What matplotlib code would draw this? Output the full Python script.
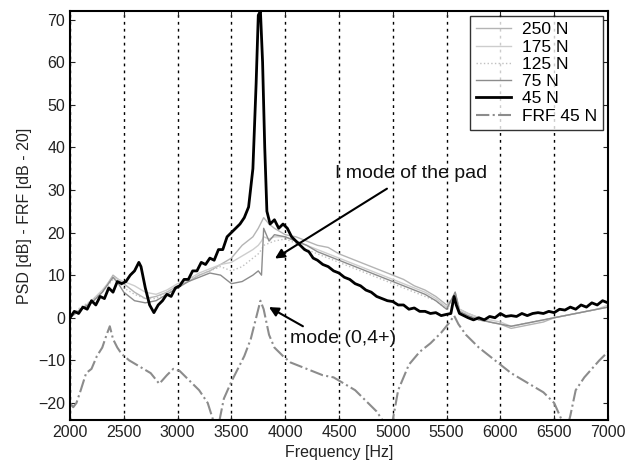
import matplotlib.pyplot as plt

plt.rcParams['font.family'] = ['Liberation Sans', 'DejaVu Sans']

# 45 N response (black)
f_45 = [2000, 2040, 2080, 2120, 2160, 2200, 2240, 2280, 2320, 2360, 2400, 2440, 2480, 2520,
        2560, 2600, 2640, 2660, 2700, 2740, 2780, 2820, 2860, 2900, 2940, 2980, 3020, 3060,
        3100, 3140, 3180, 3220, 3260, 3300, 3340, 3380, 3420, 3460, 3500, 3540, 3580, 3620,
        3660, 3700, 3730, 3750, 3770, 3790, 3810, 3830, 3860, 3900, 3940, 3980, 4020, 4060,
        4100, 4140, 4180, 4220, 4260, 4300, 4350, 4400, 4450, 4500, 4550, 4600, 4650, 4700,
        4750, 4800, 4850, 4900, 4950, 5000, 5050, 5100, 5150, 5200, 5250, 5300, 5350, 5400,
        5450, 5500, 5540, 5570, 5590, 5620, 5660, 5700, 5750, 5800, 5850, 5900, 5950, 6000,
        6050, 6100, 6150, 6200, 6250, 6300, 6350, 6400, 6450, 6500, 6550, 6600, 6650, 6700,
        6750, 6800, 6850, 6900, 6950, 7000]
psd_45 = [0, 1.5, 1, 2.5, 2, 4, 3, 5, 4.5, 7, 6, 8.5, 8, 8.5,
          10, 11, 13, 12, 7, 3, 1.2, 3, 4, 5.5, 5, 7, 7.5, 9,
          9, 11, 11, 13, 12.5, 14, 13.5, 16, 16, 19, 20, 21, 22, 23.5,
          26, 35, 55, 71, 72, 60, 40, 25, 22, 23, 21, 22, 21, 19,
          18, 17, 16, 15.5, 14, 13.5, 12.5, 12, 11, 10.5, 9.5, 9, 8, 7.5,
          6.5, 6, 5, 4.5, 4, 3.8, 3, 3, 2, 2.3, 1.5, 1.5, 1, 1.2,
          0.5, 0.8, 1, 5, 3, 1, 0.5, 0, -0.5, 0, -0.5, 0.3, 0, 1,
          0.3, 0.5, 0.3, 1, 0.5, 1, 1.2, 1, 1.5, 1.2, 2, 1.8, 2.5, 2,
          3, 2.5, 3.5, 3, 4, 3.5]

# higher loads (gray curves)
f_g = [2000, 2100, 2200, 2300, 2400, 2450, 2500, 2600, 2700, 2800, 2900, 3000, 3100, 3200,
       3300, 3400, 3500, 3600, 3700, 3750, 3780, 3800, 3850, 3900, 4000, 4100, 4200, 4300,
       4400, 4500, 4600, 4700, 4800, 4900, 5000, 5100, 5200, 5300, 5400, 5500, 5560, 5580,
       5620, 5700, 5800, 5900, 6000, 6100, 6200, 6300, 6400, 6500, 6600, 6700, 6800, 6900, 7000]
psd_250 = [0.5, 2, 3.5, 6, 10, 9, 8, 6, 4.5, 5, 6, 7.5, 8.5, 10,
           11, 12.5, 14, 17, 19, 21, 22.5, 23.5, 22, 21, 19.5, 19, 18, 17,
           16.5, 15, 14, 13, 12, 11, 10, 9, 7.5, 6.5, 5, 3, 4.5, 6,
           2, 1, 0, -1, -1.5, -2.5, -2, -1.5, -1, 0, 0.5, 1, 1.5, 2, 2.5]
psd_175 = [0, 2, 4, 6.5, 9.5, 9, 8.5, 7.5, 6, 5.5, 6.5, 8, 9, 10.5,
           11.5, 12.5, 13, 14.5, 16, 17, 18, 19, 18.5, 19, 19, 18, 17, 16,
           15, 14, 13, 12, 11, 10, 9, 8, 7, 6, 4.5, 2.5, 4.5, 5.5,
           2, 1, 0, -0.5, -1, -2, -1.5, -1, -0.5, 0, 0.5, 1, 1.5, 2, 3]
psd_125 = [0.5, 2.5, 4, 6, 9, 8.5, 7, 5.5, 4.5, 4.5, 6, 7.5, 9, 10,
           11, 12, 11, 12, 14, 15, 16, 17, 17.5, 18, 18.5, 17.5, 16, 15,
           14, 13, 12, 11, 10, 9, 8, 7, 6, 5, 4, 2, 4, 5,
           1.5, 0.5, -0.5, -1, -1.5, -2, -1.5, -1, -0.5, 0, 0.5, 1, 1.5, 2, 2.5]
psd_75 = [0, 2, 3.5, 6, 9.5, 8, 6, 4, 3.5, 4, 5.5, 7, 8.5, 9.5,
          10.5, 10, 8, 8.5, 10, 11, 10, 21, 18, 19.5, 19, 18, 17, 15.5,
          14.5, 13.5, 12.5, 11.5, 10.5, 9.5, 8.5, 7.5, 6.5, 5.5, 4, 2, 5, 6,
          1.5, 0.5, -0.5, -1, -1.5, -2, -1.5, -1, -0.5, 0, 0.5, 1, 1.5, 2, 2.5]

# FRF 45 N (dash-dot)
f_frf = [2000, 2030, 2060, 2100, 2150, 2200, 2250, 2300, 2340, 2370, 2400, 2440, 2480, 2550,
         2650, 2750, 2830, 2900, 2960, 3020, 3100, 3200, 3280, 3330, 3360, 3390, 3430, 3500,
         3560, 3620, 3680, 3730, 3770, 3800, 3850, 3900, 3980, 4050, 4150, 4250, 4350, 4450,
         4550, 4650, 4750, 4850, 4930, 4970, 5000, 5050, 5150, 5250, 5350, 5450, 5530, 5570,
         5610, 5680, 5800, 5900, 6000, 6100, 6200, 6300, 6400, 6500, 6570, 6610, 6650, 6700,
         6780, 6850, 6920, 7000]
frf_45 = [-20, -21, -20, -17, -13, -12, -9, -7, -4, -2, -5, -7, -8.5, -10,
          -11.5, -13, -15.5, -13.5, -12, -12.5, -14.5, -17, -20, -24, -27, -24, -19, -15,
          -12, -9, -5, 0, 4, 2, -4, -7, -9, -10.5, -11.5, -12.5, -13.5, -14,
          -15.5, -17, -19.5, -22, -25, -27, -24, -17, -11, -8, -6, -3.5, -1, 0.5,
          -1.5, -4, -7, -9, -11, -13, -14.5, -16, -17.5, -20, -24, -27, -23, -17,
          -14, -12, -10, -8]

fig = plt.figure(figsize=(6.26, 4.71), dpi=100)
ax = fig.add_axes([0.1118, 0.1083, 0.8594, 0.8683])

ax.plot(f_g, psd_250, color='#b4b4b4', lw=1, label='250 N')
ax.plot(f_g, psd_175, color='#cdcdcd', lw=1, label='175 N')
ax.plot(f_g, psd_125, color='#c0c0c0', lw=1, ls=':', label='125 N')
ax.plot(f_g, psd_75, color='#8c8c8c', lw=1, label='75 N')
ax.plot(f_45, psd_45, color='black', lw=2, label='45 N')
ax.plot(f_frf, frf_45, color='#8c8c8c', lw=1.5, ls='-.', label='FRF 45 N')

ax.set_xlim(2000, 7000)
ax.set_ylim(-24, 72)
ax.set_xticks(range(2000, 7001, 500))
ax.set_yticks(range(-20, 71, 10))
ax.tick_params(direction='in', top=True, right=True, labelsize=11.5, colors='#222222')
ax.grid(True, axis='x', color='black', ls=(0, (2, 3)), lw=1)
for s in ax.spines.values():
    s.set_linewidth(1.5)

ax.set_xlabel('Frequency [Hz]', fontsize=11.5, color='#222222')
ax.set_ylabel('PSD [dB] - FRF [dB - 20]', fontsize=11.5, color='#222222')

# annotations
ax.text(4463, 33.8, 'I mode of the pad', fontsize=14, va='center', color='#111111')
ax.annotate('', xy=(3905, 13.9), xytext=(4946, 30.3),
            arrowprops=dict(arrowstyle='-|>', color='black', lw=1.5,
                            shrinkA=0, shrinkB=0, mutation_scale=14))
ax.text(4045, -4.8, 'mode (0,4+)', fontsize=14, va='center', color='#111111')
ax.annotate('', xy=(3849, 2.5), xytext=(4165, -2.0),
            arrowprops=dict(arrowstyle='-|>', color='black', lw=1.5,
                            shrinkA=0, shrinkB=0, mutation_scale=14))

leg = ax.legend(loc='upper right', fontsize=12.5, frameon=True, fancybox=False,
                edgecolor='black', handlelength=2, handletextpad=0.6,
                borderpad=0.35, labelspacing=0.12, borderaxespad=0.3)
leg.get_frame().set_linewidth(1)

plt.savefig('out.png', dpi=100)
